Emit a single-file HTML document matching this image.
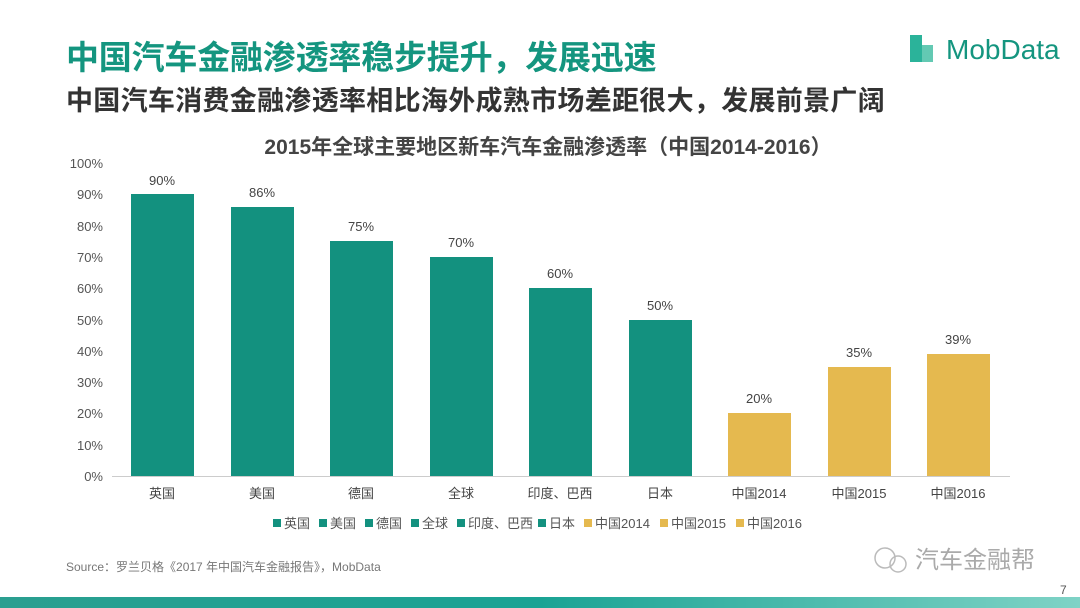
<!DOCTYPE html>
<html><head><meta charset="utf-8"><style>
body{margin:0;width:1080px;height:608px;background:#fff;overflow:hidden;position:relative;font-family:"Liberation Sans","Noto Sans CJK SC",sans-serif}
.a{position:absolute;white-space:nowrap}
</style></head><body>
<div class="a" style="left:66px;top:31px;font-size:33px;font-weight:bold;color:#14957f;letter-spacing:-0.2px">中国汽车金融渗透率稳步提升，发展迅速</div>
<div class="a" style="left:66px;top:79px;font-size:27px;font-weight:bold;color:#333;letter-spacing:0.3px">中国汽车消费金融渗透率相比海外成熟市场差距很大，发展前景广阔</div>
<div class="a" style="left:910px;top:35px;width:12px;height:27px;background:#2bb39a"></div>
<div class="a" style="left:922px;top:45px;width:11px;height:17px;background:#63c9b3"></div>
<div class="a" style="left:946px;top:34px;font-size:28px;color:#14957f">MobData</div>
<div class="a" style="left:248px;top:131px;width:600px;text-align:center;font-size:21px;font-weight:bold;color:#444">2015年全球主要地区新车汽车金融渗透率（中国2014-2016）</div>
<svg class="a" style="left:0;top:0" width="1080" height="608">
<g font-size="13" fill="#555" text-anchor="end" font-family="Liberation Sans,sans-serif">
<text x="103" y="168">100%</text><text x="103" y="199">90%</text><text x="103" y="231">80%</text><text x="103" y="262">70%</text><text x="103" y="293">60%</text><text x="103" y="325">50%</text><text x="103" y="356">40%</text><text x="103" y="387">30%</text><text x="103" y="418">20%</text><text x="103" y="450">10%</text><text x="103" y="481">0%</text>
</g>
<line x1="112" y1="476.5" x2="1010" y2="476.5" stroke="#ccc"/>
<g fill="#13917f">
<rect x="131" y="194" width="63" height="282"/>
<rect x="231" y="207" width="63" height="269"/>
<rect x="330" y="241" width="63" height="235"/>
<rect x="430" y="257" width="63" height="219"/>
<rect x="529" y="288" width="63" height="188"/>
<rect x="629" y="320" width="63" height="156"/>
</g>
<g fill="#e5b94f">
<rect x="728" y="413" width="63" height="63"/>
<rect x="828" y="367" width="63" height="109"/>
<rect x="927" y="354" width="63" height="122"/>
</g>
<g font-size="13" fill="#444" text-anchor="middle" font-family="Liberation Sans,Noto Sans CJK SC,sans-serif">
<text x="162" y="185">90%</text><text x="262" y="197">86%</text><text x="361" y="231">75%</text><text x="461" y="247">70%</text><text x="560" y="278">60%</text><text x="660" y="310">50%</text><text x="759" y="403">20%</text><text x="859" y="357">35%</text><text x="958" y="344">39%</text>
<text x="162" y="498">英国</text><text x="262" y="498">美国</text><text x="361" y="498">德国</text><text x="461" y="498">全球</text><text x="560" y="498">印度、巴西</text><text x="660" y="498">日本</text><text x="759" y="498">中国2014</text><text x="859" y="498">中国2015</text><text x="958" y="498">中国2016</text>
</g>
<g font-size="13" fill="#555" font-family="Liberation Sans,Noto Sans CJK SC,sans-serif">
<rect x="273" y="519" width="8" height="8" fill="#13917f"/><text x="284" y="528">英国</text>
<rect x="319" y="519" width="8" height="8" fill="#13917f"/><text x="330" y="528">美国</text>
<rect x="365" y="519" width="8" height="8" fill="#13917f"/><text x="376" y="528">德国</text>
<rect x="411" y="519" width="8" height="8" fill="#13917f"/><text x="422" y="528">全球</text>
<rect x="457" y="519" width="8" height="8" fill="#13917f"/><text x="468" y="528">印度、巴西</text>
<rect x="538" y="519" width="8" height="8" fill="#13917f"/><text x="549" y="528">日本</text>
<rect x="584" y="519" width="8" height="8" fill="#e5b94f"/><text x="595" y="528">中国2014</text>
<rect x="660" y="519" width="8" height="8" fill="#e5b94f"/><text x="671" y="528">中国2015</text>
<rect x="736" y="519" width="8" height="8" fill="#e5b94f"/><text x="747" y="528">中国2016</text>
<text x="66" y="571" font-size="12" fill="#777">Source：罗兰贝格《2017 年中国汽车金融报告》，MobData</text>
<text x="915" y="568" font-size="24" fill="#aaa">汽车金融帮</text>
<text x="1060" y="594" font-size="12" fill="#555">7</text>
</g>
<circle cx="885" cy="558" r="10" fill="none" stroke="#bbb" stroke-width="1.5"/>
<circle cx="898" cy="564" r="8" fill="none" stroke="#bbb" stroke-width="1.5"/>
<defs><linearGradient id="g"><stop offset="0" stop-color="#2a9f90"/><stop offset=".5" stop-color="#1aa394"/><stop offset="1" stop-color="#7fd3c6"/></linearGradient></defs>
<rect x="0" y="597" width="1080" height="11" fill="url(#g)"/>
</svg>
</body></html>
